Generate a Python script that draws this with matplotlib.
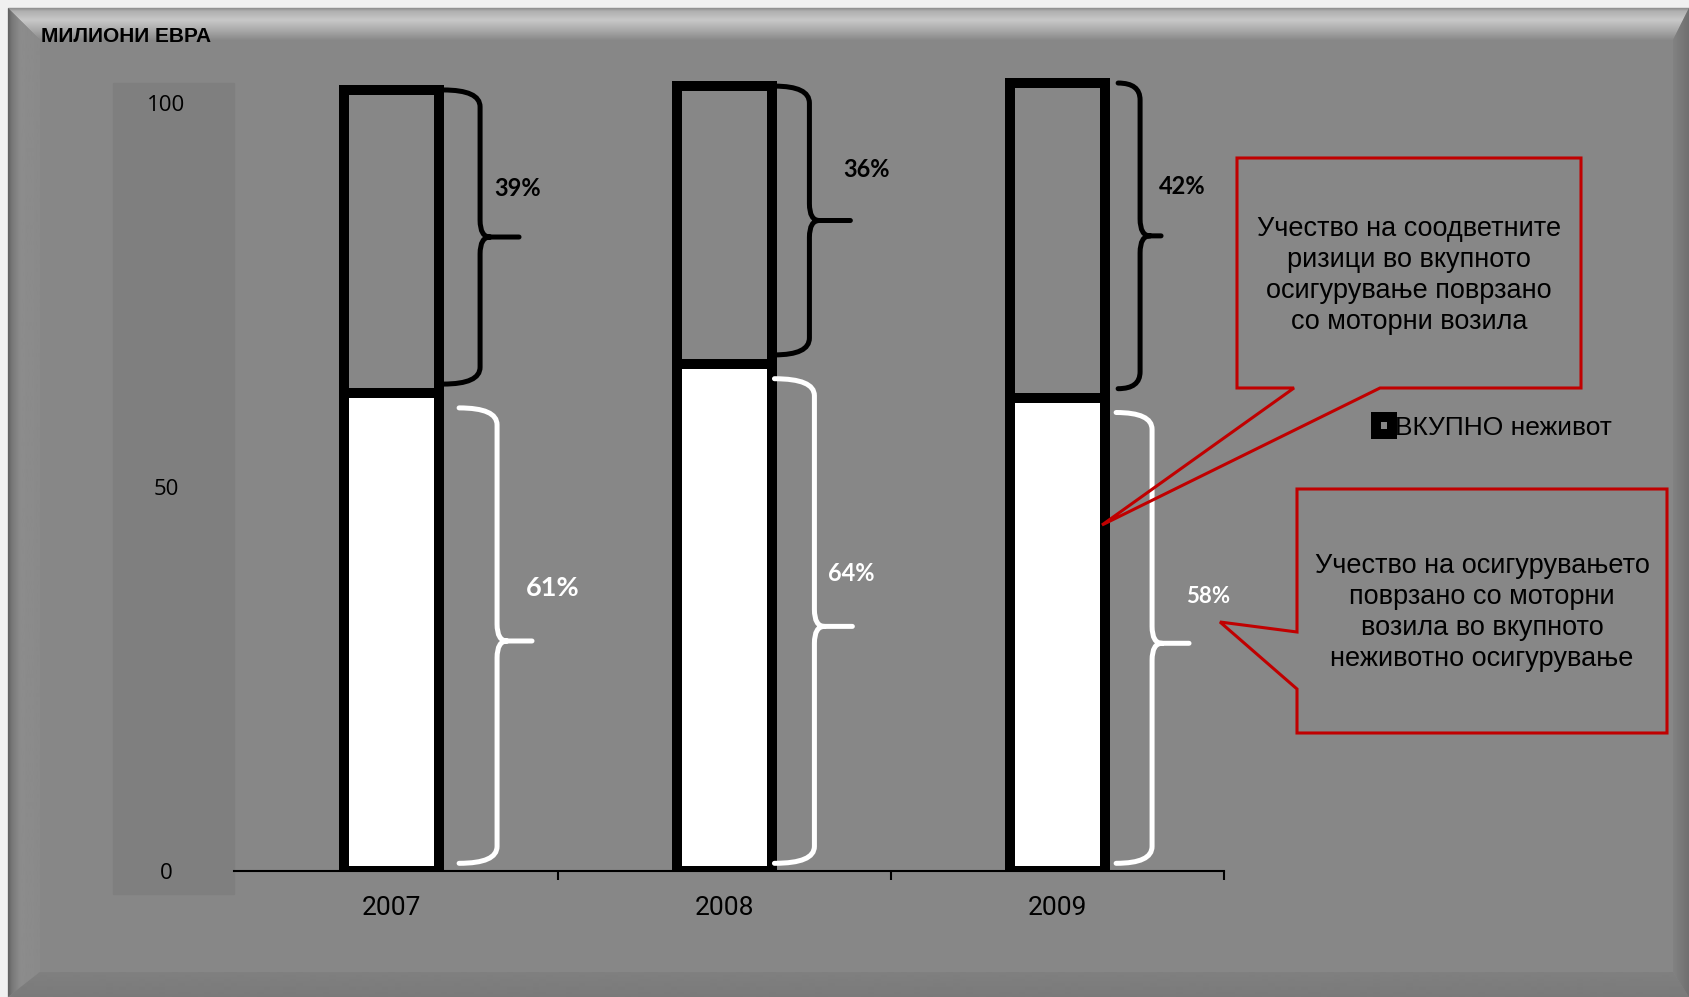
import numpy as np
import matplotlib.pyplot as plt
from matplotlib.patches import Polygon, Rectangle, PathPatch
from matplotlib.path import Path

W, H = 1689, 997

# data (million EUR)
years = ['2007', '2008', '2009']
total_nonlife = [101.7, 102.2, 102.6]   # ВКУПНО неживот
motor = [62.2, 66.0, 61.6]              # motor vehicle insurance
motor_share = [61, 64, 58]
other_share = [39, 36, 42]

# brace layout (offsets from bar centre: start, spine, tip)
black_brace_x = [(0.155, 0.266, 0.383), (0.150, 0.255, 0.378), (0.182, 0.248, 0.311)]
white_brace_x = [(0.203, 0.317, 0.422), (0.150, 0.270, 0.384), (0.176, 0.284, 0.395)]
black_lbl_pos = [(0.380, 88.9), (0.426, 91.4), (0.374, 89.1)]
white_lbl_pos = [(0.484, 36.8), (0.381, 38.7), (0.451, 35.7)]
white_lbl_size = [19.5, 17, 16]

GRAY = '#878787'
RED = '#c00000'

fig = plt.figure(figsize=(W / 100, H / 100), dpi=100, facecolor='#f0f0f0')

# ---- background panel with bevel
bg = fig.add_axes([0, 0, 1, 1], zorder=0)
bg.axis('off')
bg.add_patch(Rectangle((8, 8), W - 8, H - 8, color=GRAY, zorder=0))


def bevel(poly, stops, vertical=True):
    patch = Polygon(poly, closed=True, facecolor='none', edgecolor='none')
    bg.add_patch(patch)
    xs = [p[0] for p in poly]
    ys = [p[1] for p in poly]
    x0, x1, y0, y1 = min(xs), max(xs), min(ys), max(ys)
    if vertical:
        t = np.linspace(y0, y1, 200)
        arr = np.interp(t, [s[0] for s in stops], [s[1] for s in stops])[:, None]
    else:
        t = np.linspace(x0, x1, 200)
        arr = np.interp(t, [s[0] for s in stops], [s[1] for s in stops])[None, :]
    im = bg.imshow(arr, cmap='gray', vmin=0, vmax=255, extent=(x0, x1, y1, y0),
                   aspect='auto', interpolation='bilinear', zorder=1)
    im.set_clip_path(patch)


bevel([(8, 8), (W, 8), (W - 16, 40), (40, 40)],
      [(8, 140), (11, 175), (20, 200), (30, 170), (40, 137)])
bevel([(8, 8), (40, 40), (40, H - 25), (8, H)],
      [(8, 95), (12, 120), (20, 140), (40, 138)], vertical=False)
bevel([(8, H), (40, H - 25), (W - 16, H - 25), (W, H)],
      [(H - 25, 128), (H, 122)])
bevel([(W, 8), (W, H), (W - 16, H - 25), (W - 16, 40)],
      [(W - 16, 130), (W, 112)], vertical=False)

# y-axis label panel
bg.add_patch(Rectangle((113, 83), 121, 811, color='#7f7f7f', zorder=2))
bg.set_xlim(0, W)
bg.set_ylim(H, 0)

# ---- main chart
ax = fig.add_axes([225 / W, 1 - 871 / H, 999 / W, (871 - 64.6) / H], zorder=1)
ax.set_facecolor('none')
x = np.arange(len(years))
bw = 0.285
bars_total = ax.bar(x, total_nonlife, width=bw, color=GRAY, edgecolor='black',
                    linewidth=7.2, zorder=2, label='ВКУПНО неживот')
ax.bar(x, motor, width=bw, color='white', edgecolor='black', linewidth=7.2, zorder=3)
ax.set_xlim(-0.5, 2.5)
ax.set_ylim(0, 105)

for s in ['left', 'right', 'top']:
    ax.spines[s].set_visible(False)
ax.spines['bottom'].set_linewidth(1.5)
ax.spines['bottom'].set_bounds(-0.473, 2.5)

ax.set_xticks([0.5, 1.5, 2.5])
ax.set_xticklabels([])
ax.tick_params(axis='x', which='major', length=6.5, width=1.5, direction='out')
ax.set_xticks(x, minor=True)
ax.set_xticklabels(years, minor=True, family='Roboto', fontsize=19, color='black')
ax.tick_params(axis='x', which='minor', length=0, pad=18)

ax.set_yticks([0, 50, 100])
ax.set_yticklabels(['0', '50', '100'], family='Open Sans', fontsize=16)
ax.tick_params(axis='y', length=0, pad=42.5)
for lbl in ax.get_yticklabels():
    lbl.set_horizontalalignment('center')


def brace(xc, xs, y_bot, y_top, y_mid, color):
    xl, xsp, xt = xc + xs[0], xc + xs[1], xc + xs[2]
    r = 2.2
    verts = [(xl, y_top), (xsp, y_top), (xsp, y_top - r),
             (xsp, y_mid + r), (xsp, y_mid), (xsp + 0.03, y_mid),
             (xt, y_mid),
             (xsp + 0.03, y_mid), (xsp, y_mid), (xsp, y_mid - r),
             (xsp, y_bot + r), (xsp, y_bot), (xl, y_bot)]
    codes = [Path.MOVETO, Path.CURVE3, Path.CURVE3,
             Path.LINETO, Path.CURVE3, Path.CURVE3,
             Path.LINETO,
             Path.MOVETO, Path.CURVE3, Path.CURVE3,
             Path.LINETO, Path.CURVE3, Path.CURVE3]
    ax.add_patch(PathPatch(Path(verts, codes), facecolor='none', edgecolor=color,
                           linewidth=3.6, capstyle='round', clip_on=False, zorder=4))


for i in range(len(years)):
    b_bot = motor[i] + 1.2
    b_top = total_nonlife[i]
    brace(x[i], black_brace_x[i], b_bot, b_top, (b_bot + b_top) / 2, 'black')
    w_bot = 1.0
    w_top = motor[i] - 1.9
    brace(x[i], white_brace_x[i], w_bot, w_top, (w_bot + w_top) / 2 - 0.7, 'white')
    ax.text(x[i] + black_lbl_pos[i][0], black_lbl_pos[i][1], f'{other_share[i]}%',
            ha='center', va='center', family='Lato', fontweight='bold', fontsize=17,
            color='black')
    ax.text(x[i] + white_lbl_pos[i][0], white_lbl_pos[i][1], f'{motor_share[i]}%',
            ha='center', va='center', family='Lato', fontweight='bold',
            fontsize=white_lbl_size[i], color='white')

ax.legend(handles=[bars_total], loc='center left', bbox_to_anchor=(1376 / W, 1 - 428 / H),
          bbox_transform=fig.transFigure, frameon=False, borderpad=0, borderaxespad=0,
          handlelength=0.6, handleheight=0.6, handletextpad=0.12,
          prop={'family': 'Liberation Sans', 'size': 19})

# ---- title and callouts
fig.text(41 / W, 1 - 36 / H, 'МИЛИОНИ ЕВРА', ha='left', va='center',
         family='Liberation Sans', fontweight='bold', fontsize=15)

ov = fig.add_axes([0, 0, 1, 1], zorder=2)
ov.set_facecolor('none')
ov.axis('off')
ov.set_xlim(0, W)
ov.set_ylim(H, 0)

call1 = [(1237, 158), (1581, 158), (1581, 388), (1380, 388), (1102, 525),
         (1294, 388), (1237, 388)]
call2 = [(1297, 489), (1667, 489), (1667, 733), (1297, 733), (1297, 689),
         (1220, 622), (1297, 632)]
for poly in [call1, call2]:
    ov.add_patch(Polygon(poly, closed=True, fill=False, edgecolor=RED,
                         linewidth=2.2, joinstyle='miter'))

ov.text(1409, 275, 'Учество на соодветните\nризици во вкупното\nосигурување поврзано\nсо моторни возила',
        ha='center', va='center', family='Liberation Sans', fontsize=19.5, linespacing=1.25)
ov.text(1482, 612, 'Учество на осигурувањето\nповрзано со моторни\nвозила во вкупното\nнеживотно осигурување',
        ha='center', va='center', family='Liberation Sans', fontsize=19.5, linespacing=1.25)

fig.savefig('out.png', dpi=100, facecolor=fig.get_facecolor())
